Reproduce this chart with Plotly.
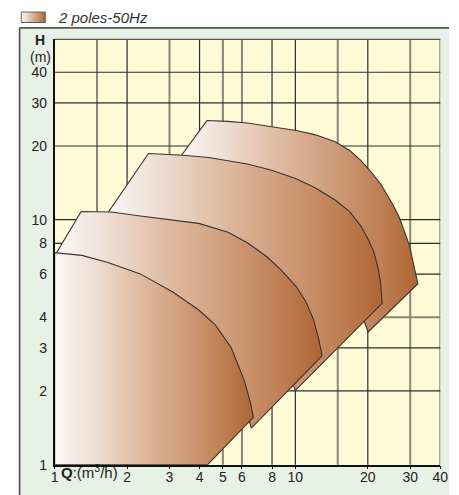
import math
import plotly.graph_objects as go

W, H = 459, 495

# ---------------- data ----------------
x_tickvals = [1, 2, 3, 4, 5, 6, 8, 10, 20, 30, 40]
x_ticktext = ["1", "2", "3", "4", "5", "6", "8", "10", "20", "30", "40"]
y_tickvals = [1, 2, 3, 4, 6, 8, 10, 20, 30, 40]
y_ticktext = ["1", "2", "3", "4", "6", "8", "10", "20", "30", "40"]

x_grid_dark = [2, 4, 8, 10, 20]
x_grid_light = [1.5, 3, 5, 6, 15, 30, 40]
y_grid_dark = [2, 3, 6, 8, 10, 20, 30, 40]
y_grid_light = [4]

# operating ranges (Q m3/h, H m) - outline of each field
q1 = [1, 1, 1.298, 1.664, 2.27, 3.095, 3.97, 4.64, 5.41, 6.13, 6.52, 6.69, 4.32]
h1 = [1, 7.34, 7.15, 6.69, 6.01, 5.07, 4.28, 3.73, 3.01, 2.21, 1.78, 1.56, 1]

q2 = [1.289, 1.717, 2.27, 3.00, 3.97, 5.25, 6.32, 7.62, 8.63, 10.07, 11.06, 11.91,
      12.52, 12.92, 6.56, 6.44, 3.97, 1.0, 1.0]
h2 = [10.8, 10.75, 10.36, 9.98, 9.66, 8.89, 8.05, 7.06, 6.30, 5.35, 4.63, 3.90,
      3.24, 2.78, 1.41, 1.506, 1.348, 4.92, 7.12]

q3 = [2.453, 3.40, 4.36, 5.25, 6.32, 7.98, 10.07, 12.14, 14.62, 16.82, 18.75, 20.07,
      21.23, 22.03, 22.59, 22.93, 10.01, 9.80, 5.25, 1.568]
h3 = [18.63, 18.34, 17.96, 17.42, 16.88, 15.92, 14.69, 13.48, 12.03, 10.8, 9.40, 8.33,
      7.34, 6.38, 5.56, 4.56, 2.01, 2.11, 3.73, 9.79]

q4 = [4.29, 5.25, 6.32, 7.98, 10.07, 12.14, 14.62, 16.82, 18.75, 20.64, 22.59, 24.18,
      25.57, 27.04, 28.07, 29.14, 29.88, 30.82, 31.69, 32.28, 20.07, 19.34, 10.07, 3.145]
h4 = [25.4, 25.2, 24.82, 24.03, 23.15, 22.21, 20.82, 19.16, 17.42, 15.63, 14.03, 12.52,
      11.41, 10.21, 9.31, 8.33, 7.74, 6.80, 6.03, 5.48, 3.48, 3.84, 7.81, 16.72]

legend_label = "2 poles-50Hz"
swatch_x = [0, 1, 1, 0, 0]
swatch_y = [0, 0, 1, 1, 0]

# ---------------- style ----------------
FONT = "Liberation Sans, Arial, sans-serif"
TXT = "#222222"
grad = [[0, "#fcf9f9"], [0.18, "#f0e1d8"], [0.42, "#dfbca2"], [0.68, "#cc9874"],
        [0.86, "#bd7d50"], [1, "#ae6535"]]
OUT = "#3a3232"


def px_x(p):
    return p / W


def px_y(p):
    return 1 - p / H


xdom = [px_x(52), px_x(448)]
ydom = [px_y(472.3), px_y(40)]

fig = go.Figure()

for q, h in [(q4, h4), (q3, h3), (q2, h2), (q1, h1)]:
    fig.add_trace(go.Scatter(
        x=q + [q[0]], y=h + [h[0]], mode="lines", fill="toself",
        fillgradient=dict(type="horizontal", colorscale=grad),
        line=dict(color=OUT, width=1.1), hoverinfo="skip", showlegend=False,
        xaxis="x", yaxis="y"))

# legend swatch
fig.add_trace(go.Scatter(
    x=swatch_x, y=swatch_y, mode="lines", fill="toself",
    fillgradient=dict(type="horizontal", colorscale=grad),
    line=dict(color="#555555", width=1), hoverinfo="skip", showlegend=False,
    xaxis="x2", yaxis="y2"))

shapes = []
# outer frame
shapes.append(dict(type="rect", xref="paper", yref="paper", x0=px_x(16), x1=px_x(457),
                   y0=-0.02, y1=px_y(28.3), fillcolor="#e8f1e5", line=dict(width=0),
                   layer="below"))
shapes.append(dict(type="rect", xref="paper", yref="paper", x0=xdom[0], x1=xdom[1],
                   y0=ydom[0], y1=ydom[1], fillcolor="#fffbd6", line=dict(width=0),
                   layer="below"))
shapes.append(dict(type="line", xref="paper", yref="paper", x0=px_x(16), x1=px_x(16),
                   y0=-0.02, y1=px_y(28.3), line=dict(color="#4a4a4a", width=1.6),
                   layer="below"))
shapes.append(dict(type="line", xref="paper", yref="paper", x0=px_x(16), x1=px_x(457),
                   y0=px_y(28.3), y1=px_y(28.3), line=dict(color="#555555", width=1.8),
                   layer="below"))
# grid
for v in x_grid_light:
    shapes.append(dict(type="line", xref="x", yref="paper", x0=v, x1=v, y0=ydom[0],
                       y1=ydom[1], line=dict(color="#8c8776", width=2), layer="below"))
for v in x_grid_dark:
    shapes.append(dict(type="line", xref="x", yref="paper", x0=v, x1=v, y0=ydom[0],
                       y1=ydom[1], line=dict(color="#2b2b2b", width=1.2), layer="below"))
for v in y_grid_light:
    shapes.append(dict(type="line", xref="paper", yref="y", x0=xdom[0], x1=xdom[1],
                       y0=v, y1=v, line=dict(color="#8c8776", width=2), layer="below"))
for v in y_grid_dark:
    shapes.append(dict(type="line", xref="paper", yref="y", x0=xdom[0], x1=xdom[1],
                       y0=v, y1=v, line=dict(color="#2b2b2b", width=1.2), layer="below"))
# top border of plot
shapes.append(dict(type="line", xref="paper", yref="paper", x0=xdom[0], x1=xdom[1],
                   y0=ydom[1], y1=ydom[1], line=dict(color="#555555", width=1.2),
                   layer="below"))

annotations = [
    dict(text="<b>H</b>", x=px_x(37), y=px_y(41), xref="paper", yref="paper",
         showarrow=False, xanchor="center", yanchor="middle",
         font=dict(family=FONT, size=14, color=TXT)),
    dict(text="(m)", x=px_x(37), y=px_y(57.5), xref="paper", yref="paper",
         showarrow=False, xanchor="center", yanchor="middle",
         font=dict(family=FONT, size=14, color=TXT)),
    dict(text="<b>Q</b>:(m<sup>3</sup>/h)", x=px_x(56), y=px_y(479.5), xref="paper",
         yref="paper", showarrow=False, xanchor="left", yanchor="middle",
         font=dict(family=FONT, size=15, color=TXT)),
    dict(text="<i>" + legend_label + "</i>", x=px_x(53), y=px_y(18), xref="paper",
         yref="paper", showarrow=False, xanchor="left", yanchor="middle",
         font=dict(family=FONT, size=15, color="#333333")),
]

fig.update_layout(
    width=W, height=H,
    margin=dict(l=0, r=0, t=0, b=0),
    paper_bgcolor="white", plot_bgcolor="rgba(0,0,0,0)",
    showlegend=False,
    shapes=shapes, annotations=annotations,
    xaxis=dict(type="log", domain=xdom, range=[0, math.log10(40)],
               tickvals=x_tickvals, ticktext=x_ticktext, showgrid=False,
               zeroline=False, showline=True, linecolor="#111111", linewidth=1.5,
               ticks="outside", ticklen=3, tickcolor="#111111", ticklabelstandoff=-4,
               tickfont=dict(family=FONT, size=14, color=TXT), fixedrange=True),
    yaxis=dict(type="log", domain=ydom, range=[0, math.log10(54.5)],
               tickvals=y_tickvals, ticktext=y_ticktext, showgrid=False,
               zeroline=False, showline=True, linecolor="#111111", linewidth=1.5,
               ticks="", ticklabelstandoff=3,
               tickfont=dict(family=FONT, size=14, color=TXT), fixedrange=True),
    xaxis2=dict(domain=[px_x(16.7), px_x(43.3)], range=[-0.04, 1.04], visible=False,
                anchor="y2", fixedrange=True),
    yaxis2=dict(domain=[px_y(23.5), px_y(11.5)], range=[-0.06, 1.06], visible=False,
                anchor="x2", fixedrange=True),
)

fig.write_html("out.html", config={"displayModeBar": False},
               post_script="document.body.style.margin='0';")
